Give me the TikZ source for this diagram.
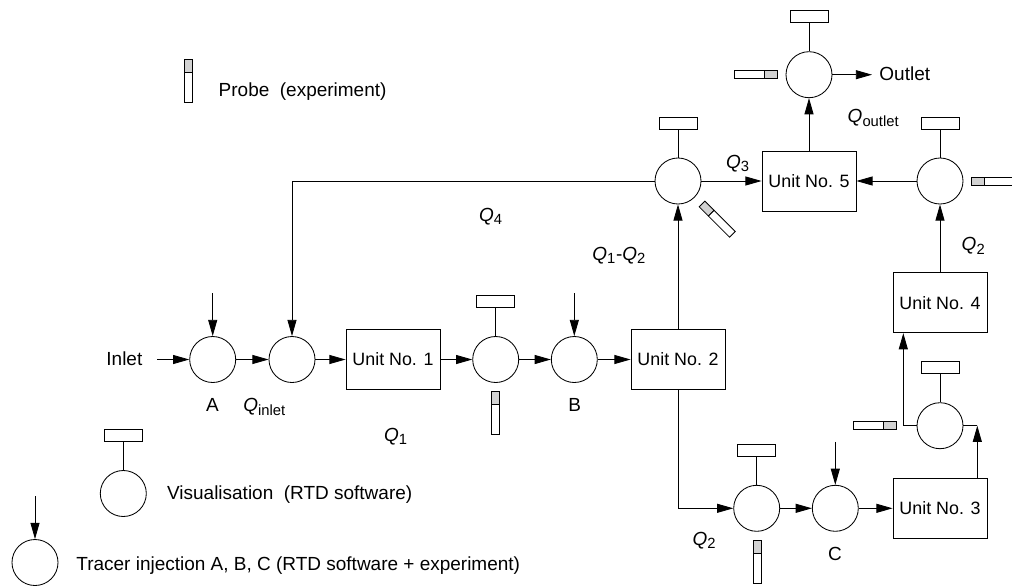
\documentclass[tikz,border=0pt]{standalone}
\usepackage{fontspec}
\setmainfont{Liberation Sans}
\usetikzlibrary{arrows.meta,positioning}

\newcommand{\qflow}[1]{\textit{Q}\textsubscript{\fontsize{10.5}{12}\selectfont #1}}

\tikzset{
  mix/.style={circle,draw,minimum size=1.15cm,inner sep=0pt},
  unit/.style={rectangle,draw,minimum width=2.35cm,minimum height=1.5cm,inner sep=0pt,
    font=\fontsize{12.7}{15}\selectfont},
  display/.style={rectangle,draw,minimum width=0.95cm,minimum height=0.3cm,inner sep=0pt},
  flow/.style={-{Triangle[length=11.5pt,width=6.4pt]}},
  lbl/.style={anchor=base west,inner sep=0pt},
  letter/.style={anchor=base,inner sep=0pt},
  probe/.pic={
    \filldraw[fill=gray!35] (-4,0) rectangle (4,13);
    \draw (-4,13) rectangle (4,43);
  }
}

\begin{document}
\begin{tikzpicture}[x=0.025cm,y=-0.025cm,line width=0.6pt,font=\fontsize{13.5}{16}\selectfont]
\useasboundingbox (0,0) rectangle (1012,585);

% legend
\pic at (188,59) {probe};
\node[lbl] (tprobe) at (218.3,96.7) {Probe\ \ (experiment)};
\node[mix] (lvis) at (123.3,493.5) {};
\node[display,above=0.7cm of lvis] (lvisd) {};
\draw (lvisd) -- (lvis);
\node[lbl] (tvis) at (166.7,499.3) {Visualisation\ \ (RTD software)};
\node[mix] (linj) at (35,562.5) {};
\draw[flow] ([yshift=1.075cm]linj.north) -- (linj);
\node[lbl] (tinj) at (76,570) {Tracer injection A, B, C (RTD software + experiment)};

% main line
\coordinate (inlet) at (157,359.5);
\node[lbl] (tinlet) at (106,365) {Inlet};
\node[mix] (cA) at (212.7,359.5) {};
\node[mix] (cIn) at (292,359.5) {};
\node[unit] (u1) at (393,359.5) {Unit No. 1};
\node[mix] (cV1) at (495.7,359.5) {};
\node[mix] (cB) at (574.3,359.5) {};
\node[unit] (u2) at (678,359.5) {Unit No. 2};

% upper part
\node[mix] (cQ3) at (678,181) {};
\node[unit] (u5) at (809,181) {Unit No. 5};
\node[mix] (cOut) at (809,74.7) {};
\coordinate (outlet) at (872,74.7);
\node[lbl] (toutlet) at (879,80) {Outlet};
\node[mix] (cR) at (940,181) {};
\node[unit] (u4) at (940,302.7) {Unit No. 4};

% lower part
\node[mix] (cV4) at (940,425.7) {};
\node[unit] (u3) at (940,508.3) {Unit No. 3};
\node[mix] (cV3) at (756.7,508.3) {};
\node[mix] (cC) at (835.3,508.3) {};

% displays
\foreach \c in {cV1,cQ3,cOut,cR,cV4,cV3}{
  \node[display,above=0.7cm of \c] (d\c) {};
  \draw (d\c) -- (\c);
}

% probes
\pic at (495.7,391) {probe};
\pic at (757,540) {probe};
\pic[rotate=-90] at (777.3,74.7) {probe};
\pic[rotate=90] at (971.7,181.5) {probe};
\pic[rotate=-90] at (896,425.8) {probe};
\pic[rotate=45] at (702,204) {probe};

% injections
\foreach \c in {cA,cB,cC}
  \draw[flow] ([yshift=1.075cm]\c.north) -- (\c);

% flows
\draw[flow] (inlet) -- (cA);
\draw[flow] (cA) -- (cIn);
\draw[flow] (cIn) -- (u1);
\draw[flow] (u1) -- (cV1);
\draw[flow] (cV1) -- (cB);
\draw[flow] (cB) -- (u2);
\draw[flow] (u2) -- (cQ3);
\draw[flow] (cQ3) -- (u5);
\draw[flow] (cQ3.west) -| (cIn.north);
\draw[flow] (u5) -- (cOut);
\draw[flow] (cOut) -- (outlet);
\draw[flow] (cR) -- (u5);
\draw[flow] (u4) -- (cR);
\draw[flow] (u2.south) |- (cV3.west);
\draw[flow] (cV3) -- (cC);
\draw[flow] (cC) -- (u3);
\coordinate (kink) at (977.3,425.7);
\draw[flow] (u3.north -| kink) -- (kink);
\draw (kink) -- (cV4.east);
\coordinate (bend) at (903.3,425.7);
\draw (cV4.west) -- (bend);
\draw[flow] (bend) -- (bend |- u4.south);

% labels
\node[letter] (tA) at (212.5,411.7) {A};
\node[letter] (tB) at (574.8,411.7) {B};
\node[letter] (tC) at (835,560) {C};
\node[lbl] (qin) at (243,411.7) {\qflow{inlet}};
\node[lbl] (q1) at (383.7,441) {\qflow{1}};
\node[lbl] (q4) at (478.7,221.7) {\qflow{4}};
\node[lbl] (q12) at (592,260) {\qflow{1}-\qflow{2}};
\node[lbl] (q3) at (725.7,168.3) {\qflow{3}};
\node[lbl] (qout) at (847.3,122.7) {\qflow{outlet}};
\node[lbl] (q2a) at (961.3,250.7) {\qflow{2}};
\node[lbl] (q2b) at (692.3,545) {\qflow{2}};
\end{tikzpicture}
\end{document}
